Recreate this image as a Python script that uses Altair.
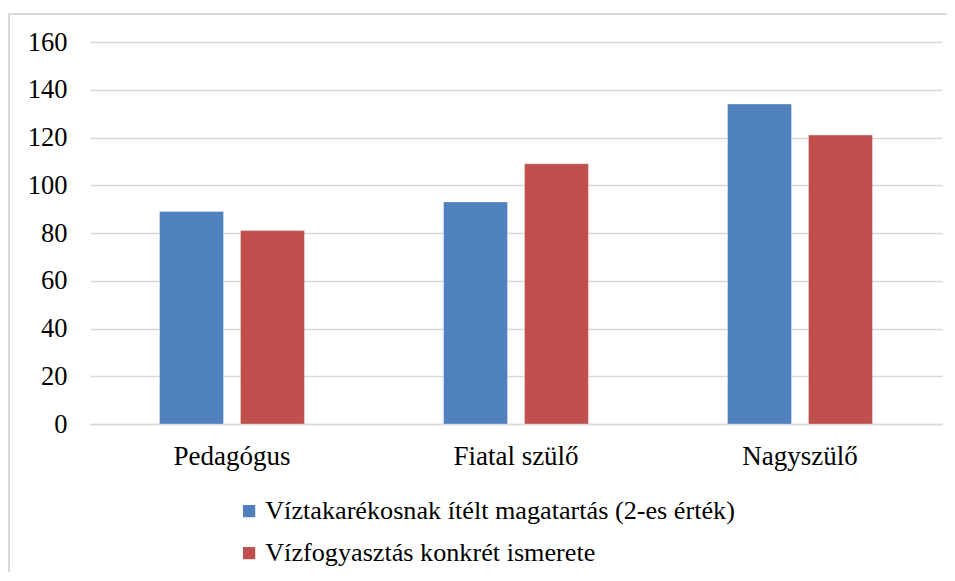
import altair as alt
import pandas as pd

categories = ["Pedagógus", "Fiatal szülő", "Nagyszülő"]
series_names = ["Víztakarékosnak ítélt magatartás (2-es érték)", "Vízfogyasztás konkrét ismerete"]
series1 = [89, 93, 134]
series2 = [81, 109, 121]
colors = ["#4F81BD", "#C0504D"]

rows = []
for c, v in zip(categories, series1):
    rows.append({"cat": c, "series": series_names[0], "value": v})
for c, v in zip(categories, series2):
    rows.append({"cat": c, "series": series_names[1], "value": v})
df = pd.DataFrame(rows)

FONT = "Liberation Serif"

bars = alt.Chart(df).mark_bar(stroke="white", strokeWidth=0.5, strokeOpacity=0.6).encode(
    x=alt.X("cat:N", sort=categories, title=None,
            scale=alt.Scale(paddingInner=0.49, paddingOuter=0.245),
            axis=alt.Axis(labelAngle=0, labelFont=FONT, labelFontSize=27, labelColor="#000000",
                          labelPadding=19, ticks=False, domainColor="#d9d9d9", domainWidth=1.5,
                          grid=False)),
    xOffset=alt.XOffset("series:N", sort=series_names,
                        scale=alt.Scale(paddingInner=0.21, paddingOuter=0)),
    y=alt.Y("value:Q", title=None,
            scale=alt.Scale(domain=[0, 160], nice=False),
            axis=alt.Axis(values=list(range(0, 161, 20)), labelFont=FONT, labelFontSize=26.5,
                          labelColor="#000000", labelPadding=23, ticks=False, domain=False,
                          gridColor="#d9d9d9", gridWidth=1.5)),
    color=alt.Color("series:N", sort=series_names,
                    scale=alt.Scale(domain=series_names, range=colors),
                    legend=alt.Legend(title=None, orient="none", legendX=146, legendY=456,
                                      direction="vertical", symbolType="square", symbolSize=150,
                                      symbolStrokeWidth=0, labelFont=FONT, labelFontSize=26.2,
                                      labelColor="#000000", rowPadding=15, labelOffset=3,
                                      labelLimit=800)),
)

frame = alt.Chart(pd.DataFrame({"k": [0]})).mark_rect(
    fill="transparent", stroke="#d9d9d9", strokeWidth=2
).encode(x=alt.value(-81), x2=alt.value(880), y=alt.value(-28), y2=alt.value(600))

chart = alt.layer(frame, bars).properties(
    width=852, height=382,
    autosize=alt.AutoSizeParams(type="none"),
    padding={"left": 82, "top": 34, "right": 5, "bottom": 148},
).configure(background="white", font=FONT).configure_view(stroke="transparent", strokeWidth=0)

chart.save("out.html", embed_options={"renderer": "svg", "actions": False})
